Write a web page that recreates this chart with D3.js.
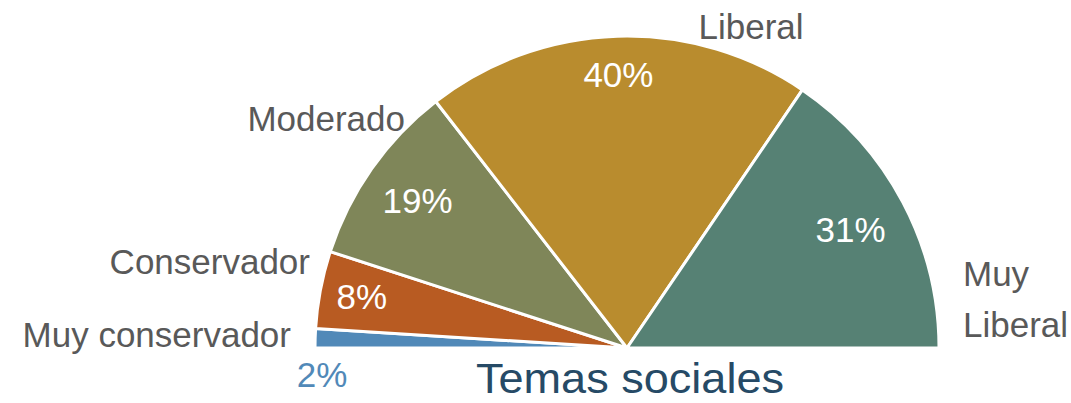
<!DOCTYPE html>
<html>
<head>
<meta charset="utf-8">
<script src="https://cdn.jsdelivr.net/npm/d3@7"></script>
<style>
  body { margin: 0; background: #fff; }
  svg { display: block; font-family: "Liberation Sans", Arial, sans-serif; }
</style>
</head>
<body>
<div class="chart"></div>
<script>
const categories = ['Muy conservador', 'Conservador', 'Moderado', 'Liberal', 'Muy Liberal']
const values = [2, 8, 19, 40, 31]
const colors = ['#5189b8', '#b85b22', '#7f8659', '#b98c2e', '#568174']
const title = 'Temas sociales'

const width = 1071
const height = 403
const cx = 627
const cy = 348
const radius = 312

const svg = d3.select('.chart')
  .append('svg')
  .attr('width', width)
  .attr('height', height)

const pie = d3.pie()
  .sort(null)
  .startAngle(-Math.PI / 2)
  .endAngle(Math.PI / 2)

const arcs = pie(values)
const arc = d3.arc().innerRadius(0).outerRadius(radius)

const g = svg.append('g')
  .attr('transform', `translate(${cx}, ${cy})`)

g.selectAll('path')
  .data(arcs)
  .enter()
  .append('path')
  .attr('d', arc)
  .attr('fill', (d, i) => colors[i])
  .attr('stroke', '#fff')
  .attr('stroke-width', 3)
  .attr('stroke-linejoin', 'round')

// percent labels, at slightly different distances like the original
const pctRadius = [0, 270, 256, 273, 253]

g.selectAll('text.pct')
  .data(arcs)
  .enter()
  .append('text')
  .attr('class', 'pct')
  .attr('text-anchor', 'middle')
  .attr('font-size', 35)
  .attr('fill', (d, i) => i === 0 ? colors[0] : '#fff')
  .attr('transform', (d, i) => {
    if (i === 0) return `translate(${-radius + 7}, ${39})`
    const c = d3.arc().innerRadius(pctRadius[i]).outerRadius(pctRadius[i]).centroid(d)
    return `translate(${c[0]}, ${c[1] + 12})`
  })
  .text(d => d.data + '%')

// category labels (placed like the original, around the arc)
const catPos = [
  { x: -336, y: -1, anchor: 'end' },
  { x: -317, y: -74, anchor: 'end' },
  { x: -222, y: -217, anchor: 'end' },
  { x: 124, y: -309, anchor: 'middle' },
  { x: 336, y: -62, anchor: 'start' }
]

categories.forEach((name, i) => {
  const p = catPos[i]
  const t = g.append('text')
    .attr('x', p.x)
    .attr('y', p.y)
    .attr('text-anchor', p.anchor)
    .attr('font-size', 35)
    .attr('fill', '#595959')
  if (name === 'Muy Liberal') {
    t.append('tspan').attr('x', p.x).attr('dy', 0).text('Muy')
    t.append('tspan').attr('x', p.x).attr('dy', 51).text('Liberal')
  } else {
    t.text(name)
  }
})

svg.append('text')
  .attr('x', cx + 3)
  .attr('y', 393)
  .attr('text-anchor', 'middle')
  .attr('font-size', 42)
  .attr('textLength', 308)
  .attr('lengthAdjust', 'spacingAndGlyphs')
  .attr('fill', '#264a66')
  .text(title)
</script>
</body>
</html>
